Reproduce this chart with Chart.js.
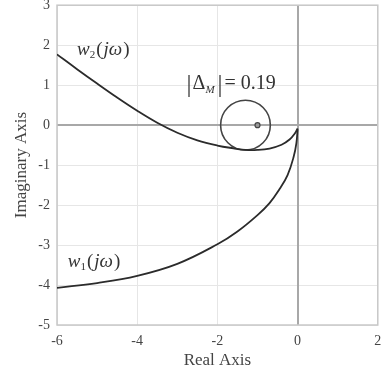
<!DOCTYPE html>
<html><head><meta charset="utf-8">
<script src="https://cdn.jsdelivr.net/npm/chart.js@4/dist/chart.umd.min.js"></script>
<style>html,body{margin:0;padding:0;background:#fff;overflow:hidden}#wrap{width:383px;height:376px;position:relative}</style>
</head><body><div id="wrap"><canvas id="c" width="383" height="376"></canvas></div>
<script>
// Data
const w1Real = [-6, -5, -4, -3, -2, -1.5, -1, -0.7, -0.45, -0.25, -0.1, -0.03, 0];
const w1Imag = [-4.07, -3.95, -3.77, -3.47, -2.98, -2.66, -2.25, -1.95, -1.6, -1.25, -0.8, -0.45, -0.1];
const w2Real = [-6, -5.5, -5, -4.5, -4, -3.5, -3, -2.5, -2, -1.6, -1.3, -1, -0.7, -0.4, -0.2, -0.07, 0];
const w2Imag = [1.77, 1.40, 1.04, 0.69, 0.36, 0.06, -0.19, -0.38, -0.51, -0.58, -0.62, -0.62, -0.585, -0.49, -0.36, -0.21, -0.08];
const circleCenter = [-1.3, 0];
const circleRadius = 0.62;
const criticalPoint = [-1, 0];
const xTicks = [-6, -4, -2, 0, 2];
const yTicks = [3, 2, 1, 0, -1, -2, -3, -4, -5];
const deltaValue = 0.19;

const toPts = (xs, ys) => xs.map((x, i) => ({x, y: ys[i]}));
const serif = "'Liberation Serif','DejaVu Serif',serif";

const overlay = {
  id: 'overlay',
  beforeDatasetsDraw(chart) {
    const {ctx, chartArea: a, scales: {x, y}} = chart;
    ctx.save();
    ctx.strokeStyle = '#a8a8a8';
    ctx.lineWidth = 2;
    ctx.beginPath();
    const x0 = Math.round(x.getPixelForValue(0));
    const y0 = Math.round(y.getPixelForValue(0));
    ctx.moveTo(x0, a.top); ctx.lineTo(x0, a.bottom);
    ctx.moveTo(a.left, y0); ctx.lineTo(a.right, y0);
    ctx.stroke();
    ctx.strokeStyle = '#c8c8c8';
    ctx.lineWidth = 1.5;
    ctx.strokeRect(a.left, a.top, a.right - a.left, a.bottom - a.top);
    ctx.restore();
  },
  afterDatasetsDraw(chart) {
    const {ctx, scales: {x, y}} = chart;
    ctx.save();
    ctx.fillStyle = '#333';
    ctx.textBaseline = 'alphabetic';
    const drawW = (sub, xv, yv) => {
      let px = x.getPixelForValue(xv), py = y.getPixelForValue(yv);
      ctx.font = 'italic 19px ' + serif;
      ctx.fillText('w', px, py); px += ctx.measureText('w').width;
      ctx.font = '11px ' + serif;
      ctx.fillText(sub, px, py + 3); px += ctx.measureText(sub).width + 1;
      ctx.font = '19px ' + serif;
      ctx.fillText('(', px, py); px += ctx.measureText('(').width + 1;
      ctx.font = 'italic 19px ' + serif;
      ctx.fillText('jω', px, py); px += ctx.measureText('jω').width + 1;
      ctx.font = '19px ' + serif;
      ctx.fillText(')', px, py);
    };
    drawW('2', -5.5, 1.75);
    drawW('1', -5.73, -3.54);
    // |Δ_M| = 0.19
    let px = x.getPixelForValue(-2.77), py = y.getPixelForValue(0.9);
    ctx.font = '25px ' + serif;
    ctx.fillText('|', px, py + 3); px += ctx.measureText('|').width + 1;
    ctx.font = '20px ' + serif;
    ctx.fillText('Δ', px, py); px += ctx.measureText('Δ').width;
    ctx.font = 'italic 11px ' + serif;
    ctx.fillText('M', px, py + 4); px += ctx.measureText('M').width + 3;
    ctx.font = '25px ' + serif;
    ctx.fillText('|', px, py + 3); px += ctx.measureText('|').width + 2;
    ctx.font = '20px ' + serif;
    ctx.fillText('= ' + deltaValue.toFixed(2), px, py);
    ctx.restore();
  }
};

new Chart(document.getElementById('c'), {
  type: 'scatter',
  data: {
    datasets: [
      {
        label: 'w2(jω)', data: toPts(w2Real, w2Imag), showLine: true,
        borderColor: '#2b2b2b', borderWidth: 1.8, pointRadius: 0, tension: 0.4
      },
      {
        label: 'w1(jω)', data: toPts(w1Real, w1Imag), showLine: true,
        borderColor: '#2b2b2b', borderWidth: 1.8, pointRadius: 0, tension: 0.4
      },
      {
        label: 'circle', data: [{x: circleCenter[0], y: circleCenter[1]}],
        pointRadius: (c) => {
          const xs = c.chart.scales.x;
          return Math.abs(xs.getPixelForValue(circleCenter[0] + circleRadius) - xs.getPixelForValue(circleCenter[0]));
        },
        pointHoverRadius: 0,
        backgroundColor: 'rgba(0,0,0,0)', borderColor: '#444', borderWidth: 1.6
      },
      {
        label: 'critical', data: [{x: criticalPoint[0], y: criticalPoint[1]}],
        pointRadius: 2.5, backgroundColor: '#999', borderColor: '#444', borderWidth: 1.2
      }
    ]
  },
  options: {
    responsive: false, animation: false, events: [],
    layout: {padding: {top: 4, right: 5, left: 0, bottom: 0}},
    plugins: {legend: {display: false}, tooltip: {enabled: false}},
    scales: {
      x: {
        type: 'linear', min: -6, max: 2,
        afterBuildTicks: (s) => { s.ticks = xTicks.map(v => ({value: v})); },
        afterFit: (s) => { s.height = 51; s.paddingLeft = 0; s.paddingRight = 0; },
        grid: {color: '#e6e6e6', lineWidth: 1, drawTicks: false},
        border: {display: false},
        ticks: {color: '#444', font: {family: serif, size: 14}, padding: 8, callback: v => String(v)},
        title: {display: true, text: 'Real Axis', color: '#444', font: {family: serif, size: 17}, padding: {top: 0, bottom: 5}}
      },
      y: {
        type: 'linear', min: -5, max: 3,
        afterBuildTicks: (s) => { s.ticks = yTicks.map(v => ({value: v})); },
        afterFit: (s) => { s.width = 57; s.paddingTop = 0; s.paddingBottom = 0; },
        grid: {color: '#e6e6e6', lineWidth: 1, drawTicks: false},
        border: {display: false},
        ticks: {color: '#444', font: {family: serif, size: 14}, padding: 7, callback: v => String(v)},
        title: {display: true, text: 'Imaginary Axis', color: '#444', font: {family: serif, size: 17}, padding: {top: 11, bottom: 0}}
      }
    }
  },
  plugins: [overlay]
});
</script></body></html>
